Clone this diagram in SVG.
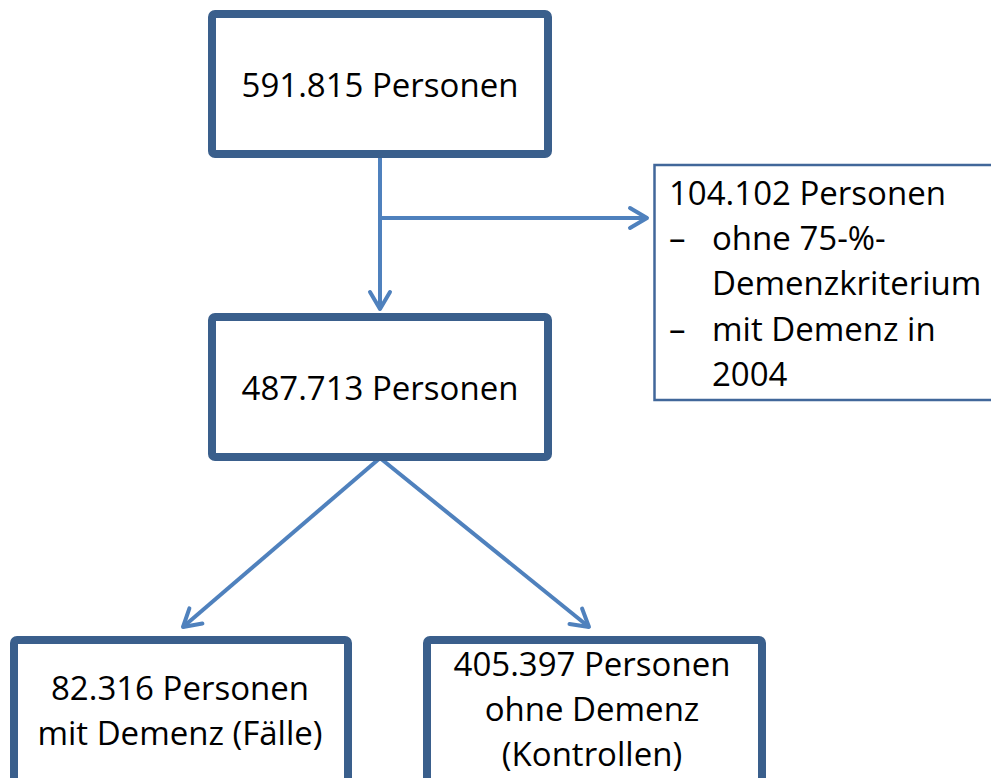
<svg xmlns="http://www.w3.org/2000/svg" width="991" height="778" viewBox="0 0 991 778">
<style>
.box{fill:#ffffff;stroke:#3A5F8C;stroke-width:8;}
.thin{fill:#ffffff;stroke:#41679A;stroke-width:2.5;}
.t{font-family:"Open Sans","Liberation Sans",sans-serif;font-size:33px;fill:#000000;}
.c{text-anchor:middle;}
.con{stroke:#4F81BD;stroke-width:4;fill:none;}
</style>
<defs>
<marker id="arr" markerUnits="userSpaceOnUse" viewBox="-22 -13 26 26" markerWidth="26" markerHeight="26" refX="0" refY="0" orient="auto" overflow="visible">
<path d="M-17,-10 L0,0 L-17,10" fill="none" stroke="#4F81BD" stroke-width="4" stroke-linecap="round" stroke-linejoin="round"/>
</marker>
</defs>
<rect width="991" height="778" fill="#ffffff"/>
<g id="connectors">
<line class="con" x1="380" y1="158" x2="380" y2="309" marker-end="url(#arr)"/>
<line class="con" x1="380" y1="218" x2="647" y2="218" marker-end="url(#arr)"/>
<line class="con" x1="380" y1="458" x2="183" y2="627" marker-end="url(#arr)"/>
<line class="con" x1="380" y1="458" x2="589" y2="627" marker-end="url(#arr)"/>
</g>
<g id="node-591815">
<rect class="box" x="212" y="14" width="336" height="140" rx="3"/>
<text class="t c" x="380" y="97">591.815 Personen</text>
</g>
<g id="node-487713">
<rect class="box" x="212" y="317" width="336" height="140" rx="3"/>
<text class="t c" x="380" y="400">487.713 Personen</text>
</g>
<g id="node-104102">
<rect class="thin" x="654.5" y="165" width="350" height="235"/>
<text class="t" x="669" y="205">104.102 Personen</text>
<text class="t" x="669" y="250">–</text>
<text class="t" x="712" y="250">ohne 75-%-</text>
<text class="t" x="712" y="295">Demenzkriterium</text>
<text class="t" x="669" y="341">–</text>
<text class="t" x="712" y="341">mit Demenz in</text>
<text class="t" x="712" y="386">2004</text>
</g>
<g id="node-82316">
<rect class="box" x="14" y="640" width="334" height="170" rx="3"/>
<text class="t c" x="180" y="700">82.316 Personen</text>
<text class="t c" x="180" y="745">mit Demenz (Fälle)</text>
</g>
<g id="node-405397">
<rect class="box" x="427" y="640" width="335" height="170" rx="3"/>
<text class="t c" x="592" y="676">405.397 Personen</text>
<text class="t c" x="592" y="721">ohne Demenz</text>
<text class="t c" x="592" y="766">(Kontrollen)</text>
</g>
</svg>
